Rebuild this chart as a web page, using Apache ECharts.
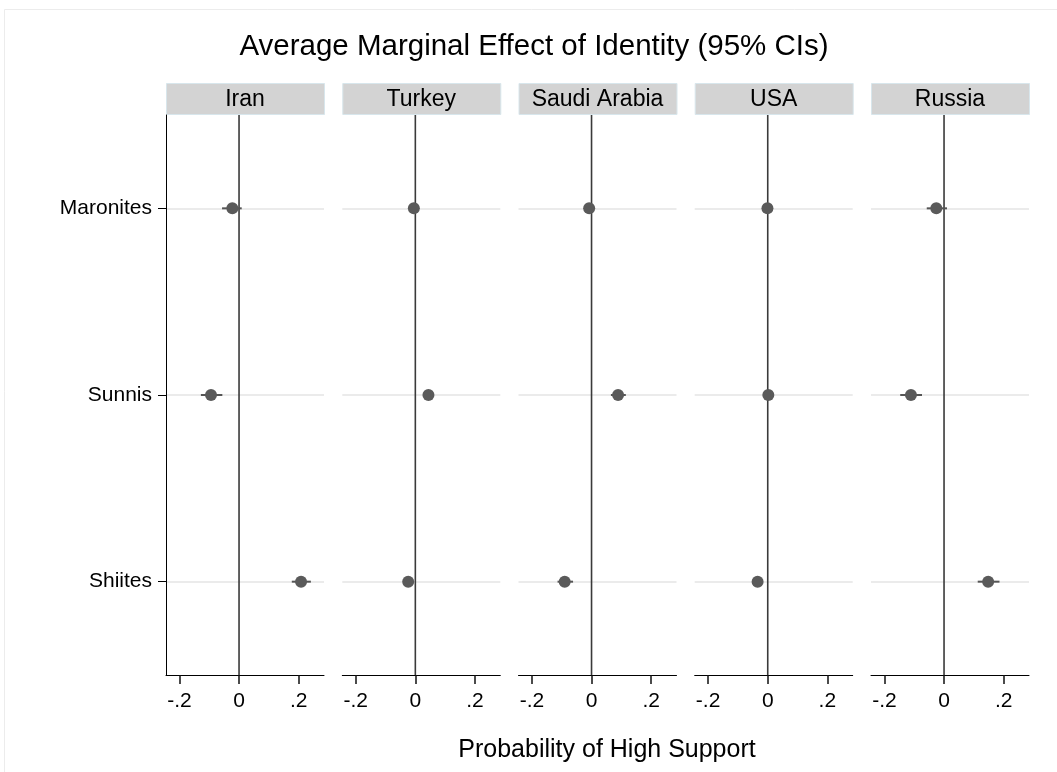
<!DOCTYPE html>
<html>
<head>
<meta charset="utf-8">
<script src="https://cdn.jsdelivr.net/npm/echarts@6/dist/echarts.min.js"></script>
<style>
  html, body { margin: 0; padding: 0; background: #fff; }
  #chart { width: 1057px; height: 772px; }
</style>
</head>
<body>
<div id="chart"></div>
<script>
// 数据：每行 [估计值, 下限, 上限]，顺序与 groups 一致
const countries = ['Iran', 'Turkey', 'Saudi Arabia', 'USA', 'Russia']
const groups = ['Maronites', 'Sunnis', 'Shiites']

const iran = [[-0.0225, -0.057, 0.009], [-0.094, -0.128, -0.056], [0.208, 0.177, 0.241]]
const turkey = [[-0.005, -0.016, 0.006], [0.044, 0.033, 0.055], [-0.024, -0.035, -0.013]]
const saudi = [[-0.008, -0.02, 0.004], [0.089, 0.065, 0.115], [-0.09, -0.114, -0.062]]
const usa = [[-0.001, -0.011, 0.009], [0.002, -0.008, 0.012], [-0.034, -0.045, -0.023]]
const russia = [[-0.026, -0.058, 0.01], [-0.111, -0.147, -0.074], [0.148, 0.113, 0.186]]

const panelData = [iran, turkey, saudi, usa, russia]

const xTickValues = [-0.2, 0, 0.2]
const xTickLabels = ['-.2', '0', '.2']

// 布局
const gridLefts = [166, 342.3, 518.5, 694.7, 871]
const gridWidth = 158
const gridTop = 115
const gridHeight = 560
const font = '"Liberation Sans", Arial, sans-serif'

const chart = echarts.init(document.getElementById('chart'))

const grids = []
const xAxes = []
const yAxes = []
const series = []
const graphics = [
  {
    type: 'rect',
    shape: { x: 4.5, y: 9.5, width: 1100, height: 800 },
    style: { fill: 'none', stroke: '#ececec', lineWidth: 1 },
    silent: true,
  },
]

countries.forEach((name, i) => {
  grids.push({ left: gridLefts[i], top: gridTop, width: gridWidth, height: gridHeight })

  xAxes.push({
    gridIndex: i,
    type: 'value',
    min: -0.245,
    max: 0.285,
    axisLine: { show: true, onZero: false, lineStyle: { color: '#000', width: 1 } },
    axisTick: {
      show: true,
      inside: false,
      length: 9,
      customValues: xTickValues,
      lineStyle: { color: '#111', width: 1.5 },
    },
    axisLabel: {
      customValues: xTickValues,
      formatter: (v) => {
        const k = xTickValues.findIndex((t) => Math.abs(t - v) < 1e-6)
        return k >= 0 ? xTickLabels[k] : ''
      },
      fontSize: 21,
      color: '#000',
      fontFamily: font,
      margin: 16,
    },
    splitLine: { show: false },
  })

  yAxes.push({
    gridIndex: i,
    type: 'category',
    data: groups,
    inverse: true,
    boundaryGap: true,
    axisLine: { show: i === 0, onZero: false, lineStyle: { color: '#000', width: 1 } },
    axisTick: { show: i === 0, alignWithLabel: true, length: 8, lineStyle: { color: '#000' } },
    axisLabel: { show: i === 0, fontSize: 21, color: '#000', fontFamily: font, margin: 14 },
    splitLine: { show: true, alignWithLabel: true, lineStyle: { color: '#ebebeb', width: 2 } },
  })

  const rows = panelData[i]

  // 置信区间 + 零线
  series.push({
    type: 'custom',
    xAxisIndex: i,
    yAxisIndex: i,
    encode: { x: [0, 1], y: 2 },
    data: rows.map((r, k) => [r[1], r[2], k]),
    renderItem: (params, api) => {
      const p1 = api.coord([api.value(0), api.value(2)])
      const p2 = api.coord([api.value(1), api.value(2)])
      const children = [
        {
          type: 'line',
          shape: { x1: p1[0], y1: p1[1], x2: p2[0], y2: p2[1] },
          style: { stroke: '#555', lineWidth: 2 },
        },
      ]
      if (params.dataIndex === 0) {
        const cs = params.coordSys
        const zx = api.coord([0, 0])[0]
        children.unshift({
          type: 'line',
          shape: { x1: zx, y1: cs.y, x2: zx, y2: cs.y + cs.height },
          style: { stroke: '#3a3a3a', lineWidth: 1.6 },
        })
      }
      return { type: 'group', children: children }
    },
    z: 4,
  })

  // 点估计
  series.push({
    type: 'scatter',
    xAxisIndex: i,
    yAxisIndex: i,
    symbolSize: 12,
    itemStyle: { color: '#5a5a5a', opacity: 1 },
    data: rows.map((r, k) => [r[0], k]),
    z: 10,
  })

  // 面板标题条
  graphics.push({
    type: 'rect',
    shape: { x: gridLefts[i] + 0.5, y: 83.5, width: gridWidth, height: 31 },
    style: { fill: '#d3d3d3', stroke: '#d8e6ec', lineWidth: 1 },
    silent: true,
  })
  graphics.push({
    type: 'text',
    x: gridLefts[i] + gridWidth / 2,
    y: 100,
    style: {
      text: name,
      fill: '#000',
      font: '23px ' + font,
      align: 'center',
      verticalAlign: 'middle',
    },
    silent: true,
  })
})

graphics.push({
  type: 'text',
  x: 534,
  y: 47,
  style: {
    text: 'Average Marginal Effect of Identity (95% CIs)',
    fill: '#000',
    font: '29.5px ' + font,
    align: 'center',
    verticalAlign: 'middle',
  },
  silent: true,
})
graphics.push({
  type: 'text',
  x: 607,
  y: 750,
  style: {
    text: 'Probability of High Support',
    fill: '#000',
    font: '25px ' + font,
    align: 'center',
    verticalAlign: 'middle',
  },
  silent: true,
})

const option = {
  backgroundColor: '#fff',
  animation: false,
  grid: grids,
  xAxis: xAxes,
  yAxis: yAxes,
  series: series,
  graphic: graphics,
}

chart.setOption(option)
</script>
</body>
</html>
